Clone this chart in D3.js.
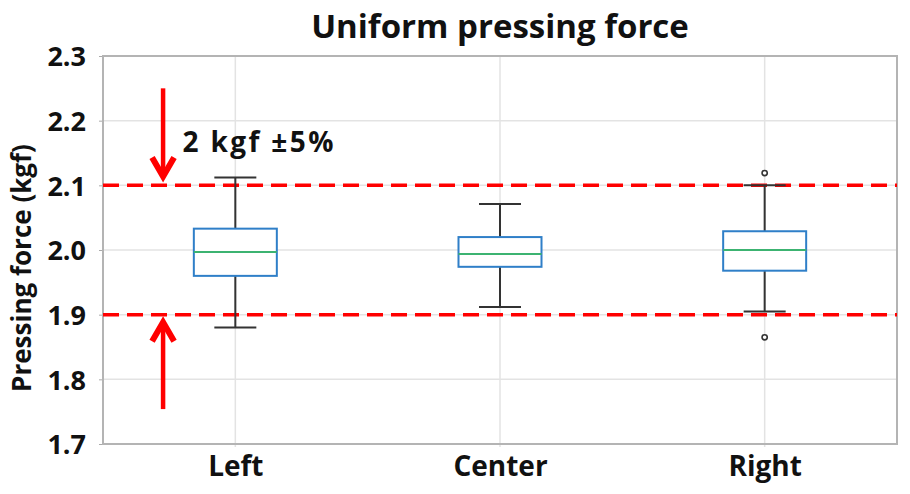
<!DOCTYPE html>
<html>
<head>
<meta charset="utf-8">
<script src="https://cdn.jsdelivr.net/npm/d3@7"></script>
<style>
  body { margin: 0; background: #fff; }
  svg { display: block; }
  text { font-family: "Open Sans", "Noto Sans", sans-serif; font-weight: bold; fill: #111; }
</style>
</head>
<body>
<svg id="chart" width="910" height="494"></svg>
<script>
const categories = ["Left", "Center", "Right"];
const whiskerLow  = [1.880, 1.912, 1.905];
const q1          = [1.960, 1.974, 1.968];
const median      = [1.997, 1.994, 2.000];
const q3          = [2.033, 2.020, 2.029];
const whiskerHigh = [2.112, 2.071, 2.100];
const outliers    = [[], [], [2.119, 1.865]];
const yTicks = [1.7, 1.8, 1.9, 2.0, 2.1, 2.2, 2.3];
const limits = [1.9, 2.1];
const arrows = [{x: 0.727, from: 2.250, to: 2.109}, {x: 0.727, from: 1.754, to: 1.893}];
const note = {x: 0.80, y: 2.152, text: "2 kgf \u00B15%"};
const title = "Uniform pressing force";
const yLabel = "Pressing force (kgf)";

const svg = d3.select("#chart");
const m = {left: 103, right: 897, top: 56, bottom: 444};
const x = d3.scaleLinear().domain([0.5, 3.5]).range([m.left, m.right]);
const y = d3.scaleLinear().domain([1.7, 2.3]).range([m.bottom, m.top]);
const boxW = 83, capW = 42;

// gridlines
svg.append("g").selectAll("line").data(yTicks).join("line")
  .attr("x1", m.left).attr("x2", m.right)
  .attr("y1", d => y(d)).attr("y2", d => y(d))
  .attr("stroke", "#e3e3e3").attr("stroke-width", 1.5);
svg.append("g").selectAll("line").data(categories).join("line")
  .attr("x1", (d, i) => x(i + 1)).attr("x2", (d, i) => x(i + 1))
  .attr("y1", m.top).attr("y2", m.bottom + 3)
  .attr("stroke", "#e3e3e3").attr("stroke-width", 1.5);

// axes
const yAxis = svg.append("g").attr("transform", `translate(${m.left},0)`)
  .call(d3.axisLeft(y).tickValues(yTicks).tickFormat(d3.format(".1f")).tickSize(4).tickPadding(13));
yAxis.select(".domain").remove();
yAxis.selectAll(".tick line").attr("stroke", "#aaa");
yAxis.selectAll("text").style("font-size", "27px").attr("dy", "0.36em");

const xAxis = svg.append("g").attr("transform", `translate(0,${m.bottom})`)
  .call(d3.axisBottom(x).tickValues([1, 2, 3]).tickFormat((d) => categories[d - 1]).tickSize(0).tickPadding(12));
xAxis.select(".domain").remove();
xAxis.selectAll("text").style("font-size", "28px");

// frame
svg.append("rect").attr("x", m.left).attr("y", m.top)
  .attr("width", m.right - m.left).attr("height", m.bottom - m.top)
  .attr("fill", "none").attr("stroke", "#b4b4b4").attr("stroke-width", 2);

// limit lines
svg.append("g").selectAll("line").data(limits).join("line")
  .attr("x1", m.left).attr("x2", m.right)
  .attr("y1", d => y(d)).attr("y2", d => y(d))
  .attr("stroke", "#ff0000").attr("stroke-width", 3.5)
  .attr("stroke-dasharray", "16,8");

// boxes
const g = svg.append("g");
categories.forEach((c, i) => {
  const cx = x(i + 1);
  const wc = "#333";
  g.append("line").attr("x1", cx).attr("x2", cx).attr("y1", y(q3[i])).attr("y2", y(whiskerHigh[i]))
    .attr("stroke", wc).attr("stroke-width", 2);
  g.append("line").attr("x1", cx).attr("x2", cx).attr("y1", y(q1[i])).attr("y2", y(whiskerLow[i]))
    .attr("stroke", wc).attr("stroke-width", 2);
  g.append("line").attr("x1", cx - capW / 2).attr("x2", cx + capW / 2).attr("y1", y(whiskerHigh[i])).attr("y2", y(whiskerHigh[i]))
    .attr("stroke", wc).attr("stroke-width", 2);
  g.append("line").attr("x1", cx - capW / 2).attr("x2", cx + capW / 2).attr("y1", y(whiskerLow[i])).attr("y2", y(whiskerLow[i]))
    .attr("stroke", wc).attr("stroke-width", 2);
  g.append("rect").attr("x", cx - boxW / 2).attr("width", boxW)
    .attr("y", y(q3[i])).attr("height", y(q1[i]) - y(q3[i]))
    .attr("fill", "#fff").attr("stroke", "#2f7fc8").attr("stroke-width", 2);
  g.append("line").attr("x1", cx - boxW / 2).attr("x2", cx + boxW / 2).attr("y1", y(median[i])).attr("y2", y(median[i]))
    .attr("stroke", "#3cb371").attr("stroke-width", 2);
  outliers[i].forEach(v => {
    g.append("circle").attr("cx", cx).attr("cy", y(v)).attr("r", 2.6)
      .attr("fill", "#fff").attr("stroke", "#333").attr("stroke-width", 1.6);
  });
});

// arrows
arrows.forEach(a => {
  const ax = x(a.x), y0 = y(a.from), y1 = y(a.to);
  const dir = y1 > y0 ? 1 : -1;
  const headH = 22, headW = 11;
  svg.append("line").attr("x1", ax).attr("x2", ax).attr("y1", y0).attr("y2", y1 - dir * 6)
    .attr("stroke", "#ff0000").attr("stroke-width", 4.5);
  svg.append("path")
    .attr("d", `M${ax - headW},${y1 - dir * headH} L${ax},${y1 - dir * 3} L${ax + headW},${y1 - dir * headH}`)
    .attr("fill", "none").attr("stroke", "#ff0000").attr("stroke-width", 6)
    .attr("stroke-linejoin", "miter").attr("stroke-linecap", "butt");
});

// annotation
svg.append("text").attr("x", x(note.x)).attr("y", y(note.y))
  .style("font-size", "28px").attr("textLength", 151).attr("lengthAdjust", "spacing").text(note.text);

// title
svg.append("text").attr("x", 500).attr("y", 38).attr("text-anchor", "middle")
  .style("font-size", "33px").text(title);

// y label
svg.append("text").attr("transform", `translate(31,${(m.top + m.bottom) / 2 + 18}) rotate(-90)`)
  .attr("text-anchor", "middle").style("font-size", "26px").text(yLabel);
</script>
</body>
</html>
